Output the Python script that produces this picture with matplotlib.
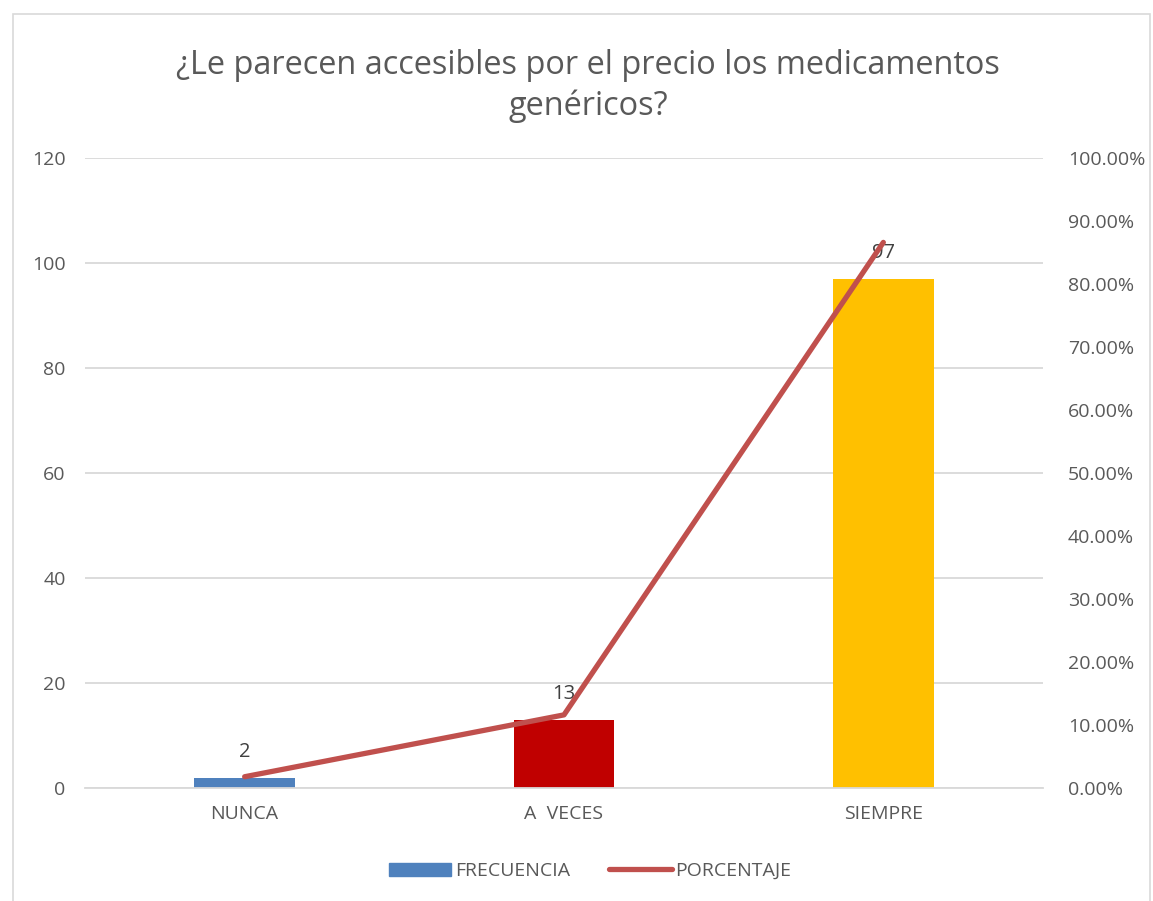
import matplotlib.pyplot as plt
from matplotlib.patches import Rectangle
from matplotlib.ticker import FuncFormatter, MultipleLocator

plt.rcParams['font.family'] = ['Open Sans', 'DejaVu Sans']

categorias = ['NUNCA', 'A  VECES', 'SIEMPRE']
frecuencia = [2, 13, 97]
porcentaje = [0.0179, 0.1161, 0.8661]
colores = ['#4F81BD', '#C00000', '#FFC000']

TXT = '#595959'
GRID = '#D9D9D9'

fig = plt.figure(figsize=(11.53, 9.01), dpi=100)
fig.patches.append(Rectangle((0.011, -0.01), 0.986, 0.995, transform=fig.transFigure,
                             fill=False, edgecolor=GRID, linewidth=1.2))
ax = fig.add_axes([0.0737, 0.1254, 0.8309, 0.6992])
ax2 = ax.twinx()

x = range(len(categorias))
bars = ax.bar(x, frecuencia, width=0.315, color=colores, zorder=2)
ax.set_xlim(-0.5, 2.5)
ax.set_ylim(0, 120)
ax.yaxis.set_major_locator(MultipleLocator(20))
ax.set_xticks(list(x))
ax.set_xticklabels(categorias)
ax.grid(axis='y', color=GRID, linewidth=1.3, zorder=0)
ax.set_axisbelow(True)
for s in ax.spines.values():
    s.set_visible(False)
for s in ax2.spines.values():
    s.set_visible(False)
ax.spines['bottom'].set_visible(True)
ax.spines['bottom'].set_color(GRID)
ax.spines['bottom'].set_linewidth(1.3)
ax.tick_params(axis='both', length=0, labelsize=14, colors=TXT, pad=14)
ax.tick_params(axis='x', pad=12)

for b, v in zip(bars, frecuencia):
    ax.text(b.get_x() + b.get_width() / 2, v + 3.0, str(v), ha='center', va='bottom',
            fontsize=14.5, color='#404040', zorder=5)

ax2.plot(list(x), porcentaje, color='#C0504D', linewidth=3.8, solid_capstyle='round',
         solid_joinstyle='round', zorder=3)
ax2.set_ylim(0, 1.0)
ax2.yaxis.set_major_locator(MultipleLocator(0.1))
ax2.yaxis.set_major_formatter(FuncFormatter(lambda v, p: f'{v * 100:.2f}%'))
ax2.tick_params(axis='y', length=0, labelsize=14, colors=TXT, pad=18)

fig.text(0.51, 0.905, '¿Le parecen accesibles por el precio los medicamentos\ngenéricos?',
         ha='center', va='center', fontsize=23.4, color=TXT, linespacing=1.3)

h1 = Rectangle((0, 0), 1, 1, color='#4F81BD')
h2 = plt.Line2D([], [], color='#C0504D', linewidth=3.8, solid_capstyle='round')
fig.legend([h1, h2], ['FRECUENCIA', 'PORCENTAJE'], loc='center', bbox_to_anchor=(0.512, 0.033),
           ncol=2, frameon=False, fontsize=14, labelcolor=TXT, handlelength=3.2,
           handleheight=0.7, handletextpad=0.2, columnspacing=2.0)

fig.savefig('out.png', dpi=100)
